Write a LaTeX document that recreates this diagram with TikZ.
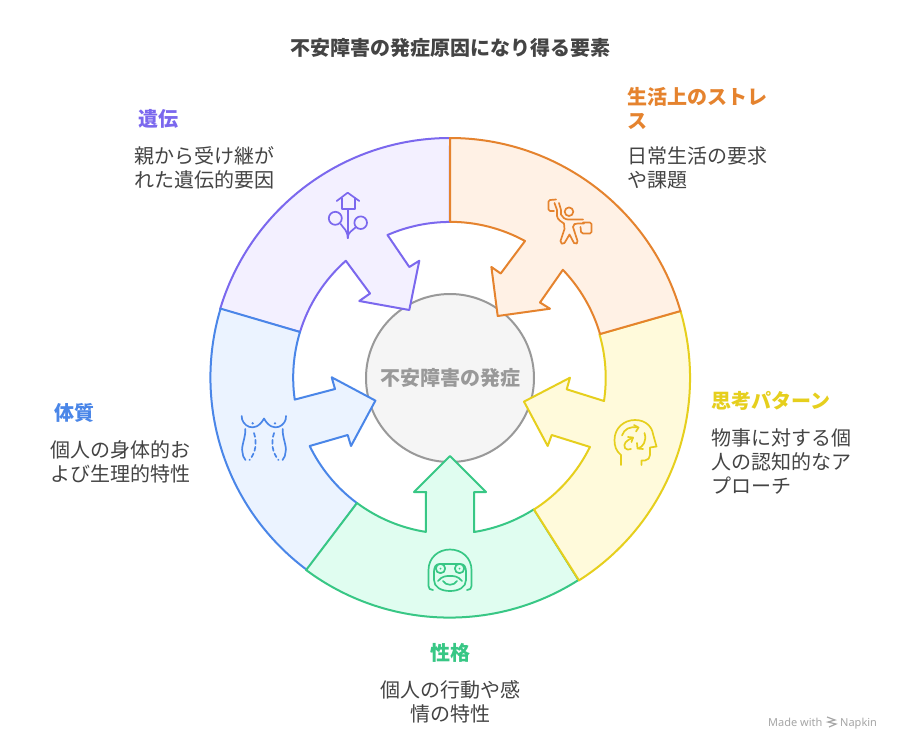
\documentclass[tikz,border=0pt]{standalone}
\usepackage{fontspec}
\setmainfont{Noto Sans CJK JP}
\newfontfamily\markfont{Noto Sans}
\definecolor{purpleline}{HTML}{7B68EE}
\definecolor{purplefill}{HTML}{F3F0FF}
\definecolor{orangeline}{HTML}{E5832E}
\definecolor{orangefill}{HTML}{FFF1E5}
\definecolor{yellowline}{HTML}{E6CF1D}
\definecolor{yellowfill}{HTML}{FFFADB}
\definecolor{greenline}{HTML}{38C785}
\definecolor{greenfill}{HTML}{E0FDF0}
\definecolor{blueline}{HTML}{4A86E8}
\definecolor{bluefill}{HTML}{EBF3FF}
\definecolor{bodytext}{HTML}{444444}
\tikzset{
	segment/.style={line width=2pt,line join=round},
	icon/.style={line width=1.7pt,line cap=round,line join=round},
	head/.style={inner sep=0pt,font=\fontsize{20}{24}\selectfont\bfseries},
	body/.style={inner sep=0pt,text=bodytext,font=\fontsize{20}{24}\selectfont},
}
\begin{document}
\begin{tikzpicture}[x=1pt,y=1pt,yscale=-1]
	\useasboundingbox (0,0) rectangle (900,750);
	\fill[white] (0,0) rectangle (900,750);
	% centre
	\node[circle,draw=black!40,fill=black!4,line width=2pt,minimum size=168pt,inner sep=0pt,text=black!40,font=\fontsize{20}{24}\selectfont\bfseries] (center) at (450,378) {不安障害の発症};
	% segments
	\draw[segment,draw=purpleline,fill=purplefill] (450,138) arc[start angle=-90,end angle=-163.3,radius=240] -- (300,332) arc[start angle=-163,end angle=-131.5,radius=156] -- (370,293.5) -- (359.3,301) -- (409.3,310) -- (419.3,260.7) -- (409.3,267) -- (387.5,235) arc[start angle=-113.6,end angle=-90,radius=156] -- cycle;
	\draw[segment,draw=blueline,fill=bluefill] (307,570) arc[start angle=126.7,end angle=196.7,radius=240] -- (300,332) arc[start angle=197,end angle=171.9,radius=156] -- (335,389) -- (331.7,377.3) -- (375.4,400.6) -- (351,446) -- (347.7,435) -- (309.7,446) arc[start angle=154.1,end angle=126.6,radius=156] -- cycle;
	\draw[segment,draw=greenline,fill=greenfill] (578.5,580) arc[start angle=57.5,end angle=126.7,radius=240] -- (357,503) arc[start angle=126.6,end angle=98.9,radius=156] -- (426,492) -- (414,492) -- (450,456) -- (486,492) -- (474,492) -- (474,532) arc[start angle=81.1,end angle=57.4,radius=156] -- cycle;
	\draw[segment,draw=yellowline,fill=yellowfill] (680.5,311) arc[start angle=-16.2,end angle=57.5,radius=240] -- (534,509.5) arc[start angle=57.4,end angle=26.2,radius=156] -- (551.7,435) -- (547.7,446) -- (524,401.6) -- (570,377.7) -- (566.7,389.3) -- (604,401) arc[start angle=8.5,end angle=-16.3,radius=156] -- cycle;
	\draw[segment,draw=orangeline,fill=orangefill] (450,138) arc[start angle=-90,end angle=-16.2,radius=240] -- (600,334) arc[start angle=-16.3,end angle=-43.8,radius=156] -- (540,302.5) -- (550,308.7) -- (497.7,316) -- (491.4,267) -- (500.7,273.5) -- (525,241) arc[start angle=-61.3,end angle=-90,radius=156] -- cycle;
	% icon heredity
	\begin{scope}[icon,draw=purpleline]
		\draw (347.7,210) -- (347.7,238);
		\draw (336.7,201) -- (347.7,192.7) -- (359.3,201);
		\draw (341.7,198.3) -- (341.7,208.7) -- (355,208.7) -- (355,198.3);
		\draw (335.3,218.3) circle [radius=6.5];
		\draw (360.7,222.7) circle [radius=6.3];
		\draw (347.7,238) .. controls (347.7,230) and (343,228) .. (340.7,224);
		\draw (347.7,238) .. controls (348,232) and (352,231) .. (356,227);
	\end{scope}
	% icon stress
	\begin{scope}[icon,draw=orangeline]
		\draw (569,211.7) circle [radius=4.3];
		\draw (556,199.5) -- (550,200) -- (548.5,201.5) -- (548.5,209.5) -- (550,211) -- (554,211);
		\draw (554.5,203) -- (557,210) -- (557,216) .. controls (557.5,220) and (562,222) .. (564,223.5) -- (564.5,229) -- (560.5,241) .. controls (560,243.5) and (563,245) .. (564.5,243) -- (569.5,234.5) -- (574,243) .. controls (576,245) and (578,243) .. (577.5,241) -- (573,227) .. controls (573,224) and (575,223.5) .. (578,223.5) -- (584,223.5);
		\draw (559,203) -- (561,210) -- (561,214.5) .. controls (562,217) and (565,219.5) .. (568,219.5) -- (583,219.5);
		\draw (583,222.5) -- (590,222.5) -- (591.5,224) -- (591.5,232) -- (590,233.5) -- (583,233.5) -- (581,232) -- (580.5,227);
	\end{scope}
	% icon pattern
	\begin{scope}[icon,draw=yellowline]
		\draw (621,465) -- (621,455) .. controls (616,451) and (614.5,446) .. (614.5,440) .. controls (614.5,428) and (624,420) .. (635,420) .. controls (646,420) and (652,427) .. (653,434) -- (656.5,446.5) -- (650,447.5) -- (650,455) .. controls (650,458) and (648,460) .. (645,460.5) -- (641.5,460.5) -- (641.5,465);
		\draw (622,435.5) .. controls (624,429) and (630,426) .. (638,427.5);
		\draw (634,425) -- (638.5,427.5) -- (636,431.5);
		\draw (644.5,433) .. controls (647,441) and (643,447) .. (638,448.5);
		\draw (637,443) -- (637.5,448.5) -- (643,449);
		\draw (633,438) .. controls (626,440) and (623,444) .. (625,448) .. controls (626,450) and (629,450) .. (631,449);
		\draw (628,437) -- (633,437.5) -- (631.5,442);
	\end{scope}
	% icon character
	\begin{scope}[icon,draw=greenline]
		\draw (433,590) .. controls (430,590) and (428.5,588.5) .. (428.5,586) -- (428.5,570) .. controls (428.5,558) and (438,549.5) .. (450,549.5) .. controls (462,549.5) and (471.5,558) .. (471.5,570) -- (471.5,586) .. controls (471.5,588.5) and (470,590) .. (467,590);
		\draw (434,573) .. controls (434,566) and (436,564) .. (440,564) -- (460,564) .. controls (464,564) and (466,566) .. (466,573) -- (466,580) .. controls (466,587) and (459,591) .. (450,591) .. controls (441,591) and (434,587) .. (434,580) -- cycle;
		\draw[fill=greenfill] (440.5,568.5) circle [radius=4.7];
		\draw[fill=greenfill] (459.5,568.5) circle [radius=4.7];
		\fill[greenline] (440.5,568.5) circle [radius=1];
		\fill[greenline] (459.5,568.5) circle [radius=1];
		\draw (438,581) .. controls (442,576) and (446,576) .. (450,576) .. controls (454,576) and (458,576) .. (462,581);
		\draw (443,581) .. controls (446,586) and (454,586) .. (457,581);
	\end{scope}
	% icon constitution
	\begin{scope}[icon,draw=blueline]
		\draw (241.7,416) .. controls (241,425) and (255,435) .. (264,418.5) .. controls (273,435) and (287,425) .. (286,416);
		\fill[blueline] (252.7,423.3) circle [radius=1.3];
		\fill[blueline] (275,423.3) circle [radius=1.3];
		\draw (245.3,429) .. controls (246,436) and (241,447) .. (242.3,451) .. controls (243,455) and (243,458) .. (245.5,460);
		\draw (282.7,429) .. controls (282,436) and (287,447) .. (285.7,451) .. controls (285,455) and (285,458) .. (282.5,460);
		\draw[dash pattern=on 4pt off 3pt] (254,433) .. controls (257,443) and (256,452) .. (249.5,460);
		\draw[dash pattern=on 4pt off 3pt] (274,433) .. controls (271,443) and (272,452) .. (278.5,460);
	\end{scope}
	% labels
	\node[head,text=bodytext] (title) at (450,48) {不安障害の発症原因になり得る要素};
	\node[head,text=purpleline,anchor=west] (hereditylabel) at (138,119) {遺伝};
	\node[body,anchor=west,align=left] (heredityinfo) at (134,168) {親から受け継が\\れた遺伝的要因};
	\node[head,text=orangeline,anchor=west,align=left] (stresslabel) at (627,108) {生活上のストレ\\ス};
	\node[body,anchor=west,align=left] (stressinfo) at (627,168) {日常生活の要求\\や課題};
	\node[head,text=yellowline,anchor=west] (patternlabel) at (711,401) {思考パターン};
	\node[body,anchor=west,align=left] (patterninfo) at (711,462) {物事に対する個\\人の認知的なア\\プローチ};
	\node[head,text=greenline] (characterlabel) at (450,653) {性格};
	\node[body,align=center] (characterinfo) at (450,702) {個人の行動や感\\情の特性};
	\node[head,text=blueline,anchor=west] (constitutionlabel) at (54,413) {体質};
	\node[body,anchor=west,align=left] (constitutioninfo) at (50,462) {個人の身体的お\\よび生理的特性};
	% mark
	\node[anchor=base west,inner sep=0pt,text=black!35,font=\fontsize{11}{13}\selectfont\markfont] (madewith) at (768,726) {Made with};
	\node[anchor=base west,inner sep=0pt,text=black!35,font=\fontsize{11}{13}\selectfont\markfont] (napkin) at (840,726) {Napkin};
	\draw[black!35,line width=1.2pt] (827,717) -- (835,720) -- (828,722) -- (836,724) -- (829,727);
\end{tikzpicture}
\end{document}
